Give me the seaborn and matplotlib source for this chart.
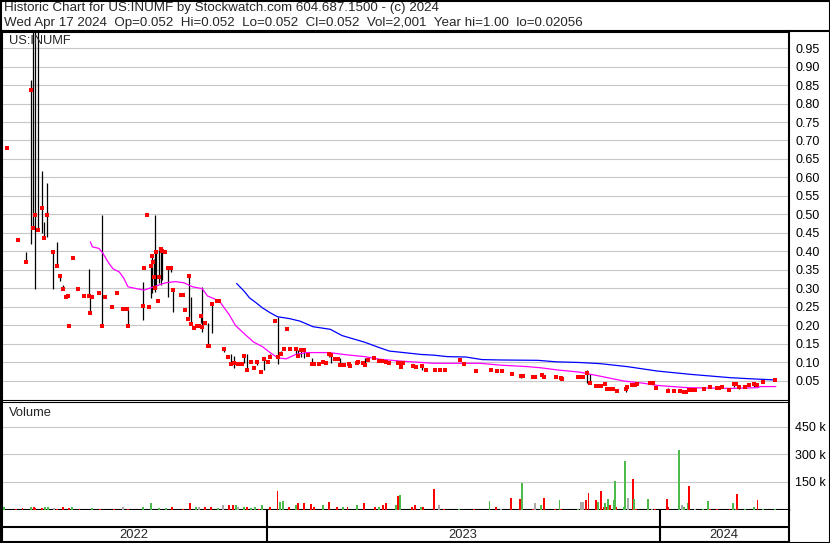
import pandas as pd
import matplotlib
matplotlib.use("Agg")
import matplotlib.pyplot as plt
import matplotlib.dates as mdates
from matplotlib.lines import Line2D
from matplotlib.patches import Rectangle
import seaborn as sns

# 1. Dades llegides del grafic (barres diaries: maxim / minim / tancament)

bar_dates = [
    "2022-05-05", "2022-05-15", "2022-05-22", "2022-05-27", "2022-05-29", "2022-05-31",
    "2022-06-02", "2022-06-06", "2022-06-08", "2022-06-11", "2022-06-16", "2022-06-20", "2022-06-23", "2022-06-26", "2022-06-28", "2022-06-30",
    "2022-07-01", "2022-07-05", "2022-07-10", "2022-07-15", "2022-07-20", "2022-07-21", "2022-07-23", "2022-07-29",
    "2022-08-01", "2022-08-04", "2022-08-10", "2022-08-15", "2022-08-20", "2022-08-24", "2022-08-25",
    "2022-09-08", "2022-09-09", "2022-09-12", "2022-09-14", "2022-09-15", "2022-09-16", "2022-09-17", "2022-09-18", "2022-09-19", "2022-09-20", "2022-09-22", "2022-09-23", "2022-09-25", "2022-09-26", "2022-09-28",
    "2022-10-01", "2022-10-04", "2022-10-06", "2022-10-13", "2022-10-15", "2022-10-17", "2022-10-20", "2022-10-21", "2022-10-23", "2022-10-25", "2022-10-28", "2022-10-30",
    "2022-11-01", "2022-11-02", "2022-11-05", "2022-11-07", "2022-11-08", "2022-11-11", "2022-11-16", "2022-11-18", "2022-11-22", "2022-11-26", "2022-11-29",
    "2022-12-02", "2022-12-05", "2022-12-06", "2022-12-09", "2022-12-11", "2022-12-14", "2022-12-17", "2022-12-20", "2022-12-23", "2022-12-27", "2022-12-29",
    "2023-01-02", "2023-01-04", "2023-01-09", "2023-01-11", "2023-01-14", "2023-01-17", "2023-01-20", "2023-01-23", "2023-01-28", "2023-01-30",
    "2023-02-02", "2023-02-05", "2023-02-08", "2023-02-12", "2023-02-14", "2023-02-19", "2023-02-22", "2023-02-25", "2023-02-28",
    "2023-03-02", "2023-03-05", "2023-03-08", "2023-03-10", "2023-03-14", "2023-03-18", "2023-03-19", "2023-03-26", "2023-03-27", "2023-03-31",
    "2023-04-02", "2023-04-05", "2023-04-11", "2023-04-15", "2023-04-18", "2023-04-22", "2023-04-25",
    "2023-05-03", "2023-05-04", "2023-05-06", "2023-05-08", "2023-05-17", "2023-05-20", "2023-05-25", "2023-05-29",
    "2023-06-06", "2023-06-11", "2023-06-16", "2023-06-30",
    "2023-07-03", "2023-07-14", "2023-07-28",
    "2023-08-03", "2023-08-08", "2023-08-17", "2023-08-25", "2023-08-27",
    "2023-09-05", "2023-09-07", "2023-09-14", "2023-09-16", "2023-09-27",
    "2023-10-01", "2023-10-02", "2023-10-17", "2023-10-19", "2023-10-22", "2023-10-26", "2023-10-28",
    "2023-11-03", "2023-11-05", "2023-11-08", "2023-11-11", "2023-11-13", "2023-11-16", "2023-11-19", "2023-11-22",
    "2023-12-01", "2023-12-02", "2023-12-06", "2023-12-09", "2023-12-11", "2023-12-23", "2023-12-26", "2023-12-29",
    "2024-01-09", "2024-01-14", "2024-01-20", "2024-01-24", "2024-01-26", "2024-01-28", "2024-01-31",
    "2024-02-03", "2024-02-11", "2024-02-17", "2024-02-23", "2024-02-25", "2024-02-28",
    "2024-03-06", "2024-03-10", "2024-03-12", "2024-03-15", "2024-03-20", "2024-03-24", "2024-03-29",
    "2024-04-01", "2024-04-06", "2024-04-17",
]

bar_high = [
    0.679, 0.430, 0.399, 0.864, 1.000, 1.000,
    1.000, 0.618, 0.479, 0.585, 0.399, 0.426, 0.340, 0.310, 0.276, 0.285,
    0.198, 0.381, 0.303, 0.279, 0.351, 0.279, 0.276, 0.287,
    0.499, 0.276, 0.249, 0.287, 0.243, 0.243, 0.243,
    0.318, 0.354, 0.498, 0.249, 0.362, 0.390, 0.371, 0.378, 0.499, 0.404, 0.265, 0.412, 0.410, 0.403, 0.398,
    0.354, 0.354, 0.295, 0.283, 0.283, 0.241, 0.218, 0.333, 0.277, 0.192, 0.200, 0.198,
    0.225, 0.304, 0.205, 0.205, 0.144, 0.257, 0.265, 0.265, 0.137, 0.114, 0.121,
    0.118, 0.096, 0.096, 0.096, 0.116, 0.121, 0.100, 0.084, 0.100, 0.073, 0.108,
    0.100, 0.121, 0.211, 0.222, 0.130, 0.135, 0.189, 0.135, 0.135, 0.133,
    0.133, 0.135, 0.119, 0.112, 0.094, 0.095, 0.103, 0.097, 0.124,
    0.121, 0.108, 0.108, 0.112, 0.092, 0.096, 0.089, 0.099, 0.101, 0.097,
    0.110, 0.106, 0.110, 0.109, 0.104, 0.100, 0.099,
    0.101, 0.097, 0.099, 0.099, 0.089, 0.088, 0.091, 0.079,
    0.079, 0.080, 0.080, 0.106,
    0.094, 0.076, 0.081,
    0.076, 0.076, 0.072, 0.064, 0.062,
    0.060, 0.060, 0.066, 0.060, 0.060,
    0.062, 0.054, 0.060, 0.060, 0.060, 0.079, 0.067,
    0.035, 0.035, 0.035, 0.045, 0.028, 0.028, 0.031, 0.022,
    0.028, 0.032, 0.042, 0.042, 0.042, 0.045, 0.045, 0.031,
    0.031, 0.022, 0.022, 0.019, 0.019, 0.025, 0.025,
    0.025, 0.028, 0.033, 0.030, 0.030, 0.033,
    0.026, 0.047, 0.042, 0.037, 0.033, 0.037, 0.042,
    0.037, 0.046, 0.052,
]

bar_low = [
    0.679, 0.430, 0.371, 0.419, 0.461, 0.299,
    0.459, 0.449, 0.437, 0.439, 0.299, 0.359, 0.319, 0.297, 0.276, 0.279,
    0.198, 0.381, 0.298, 0.279, 0.279, 0.232, 0.276, 0.287,
    0.198, 0.276, 0.249, 0.287, 0.243, 0.243, 0.198,
    0.214, 0.354, 0.498, 0.249, 0.273, 0.288, 0.371, 0.297, 0.289, 0.297, 0.265, 0.313, 0.310, 0.323, 0.398,
    0.276, 0.345, 0.237, 0.283, 0.283, 0.241, 0.218, 0.218, 0.202, 0.192, 0.198, 0.198,
    0.205, 0.182, 0.205, 0.144, 0.144, 0.180, 0.265, 0.265, 0.128, 0.114, 0.094,
    0.085, 0.096, 0.096, 0.096, 0.099, 0.078, 0.100, 0.084, 0.093, 0.073, 0.079,
    0.100, 0.115, 0.211, 0.096, 0.121, 0.135, 0.189, 0.135, 0.121, 0.118,
    0.113, 0.110, 0.119, 0.094, 0.094, 0.095, 0.101, 0.097, 0.115,
    0.099, 0.108, 0.108, 0.092, 0.092, 0.096, 0.089, 0.099, 0.099, 0.097,
    0.092, 0.106, 0.110, 0.100, 0.104, 0.099, 0.099,
    0.096, 0.097, 0.085, 0.099, 0.089, 0.088, 0.078, 0.079,
    0.079, 0.077, 0.077, 0.106,
    0.094, 0.076, 0.078,
    0.076, 0.076, 0.066, 0.058, 0.062,
    0.060, 0.060, 0.060, 0.060, 0.060,
    0.054, 0.054, 0.060, 0.060, 0.060, 0.045, 0.043,
    0.035, 0.035, 0.035, 0.038, 0.028, 0.028, 0.026, 0.022,
    0.019, 0.032, 0.037, 0.037, 0.042, 0.045, 0.045, 0.031,
    0.019, 0.022, 0.022, 0.019, 0.019, 0.025, 0.025,
    0.025, 0.028, 0.033, 0.030, 0.030, 0.033,
    0.026, 0.033, 0.042, 0.028, 0.033, 0.037, 0.033,
    0.037, 0.046, 0.052,
]

bar_close = [
    0.679, 0.430, 0.371, 0.837, 0.462, 0.498,
    0.459, 0.517, 0.437, 0.498, 0.397, 0.359, 0.334, 0.298, 0.276, 0.279,
    0.198, 0.381, 0.298, 0.279, 0.279, 0.232, 0.276, 0.287,
    0.198, 0.276, 0.249, 0.287, 0.243, 0.243, 0.198,
    0.253, 0.354, 0.498, 0.249, 0.360, 0.388, 0.371, 0.330, 0.300, 0.398, 0.265, 0.330, 0.405, 0.400, 0.398,
    0.354, 0.354, 0.295, 0.283, 0.283, 0.241, 0.218, 0.333, 0.202, 0.192, 0.198, 0.198,
    0.225, 0.195, 0.205, 0.144, 0.144, 0.257, 0.265, 0.265, 0.137, 0.114, 0.096,
    0.099, 0.096, 0.096, 0.096, 0.116, 0.078, 0.100, 0.084, 0.100, 0.073, 0.108,
    0.100, 0.115, 0.211, 0.114, 0.121, 0.135, 0.189, 0.135, 0.135, 0.118,
    0.133, 0.133, 0.119, 0.094, 0.094, 0.095, 0.101, 0.097, 0.121,
    0.119, 0.108, 0.108, 0.092, 0.092, 0.096, 0.089, 0.099, 0.101, 0.097,
    0.092, 0.106, 0.110, 0.103, 0.104, 0.100, 0.099,
    0.099, 0.097, 0.087, 0.099, 0.089, 0.088, 0.089, 0.079,
    0.079, 0.078, 0.078, 0.106,
    0.094, 0.076, 0.079,
    0.076, 0.076, 0.069, 0.062, 0.062,
    0.060, 0.060, 0.064, 0.060, 0.060,
    0.058, 0.054, 0.060, 0.060, 0.060, 0.072, 0.045,
    0.035, 0.035, 0.035, 0.042, 0.028, 0.028, 0.028, 0.022,
    0.028, 0.032, 0.037, 0.037, 0.042, 0.045, 0.045, 0.031,
    0.022, 0.022, 0.022, 0.019, 0.019, 0.025, 0.025,
    0.025, 0.028, 0.033, 0.030, 0.030, 0.033,
    0.026, 0.040, 0.042, 0.033, 0.033, 0.037, 0.040,
    0.037, 0.046, 0.052,
]

# 2. Volum diari (u = puja, d = baixa, f = sense canvi)

vol_dates = [
    "2022-05-02", "2022-05-13", "2022-05-19", "2022-05-27", "2022-05-30", "2022-05-31",
    "2022-06-06", "2022-06-09", "2022-06-12", "2022-06-17", "2022-06-20", "2022-06-26",
    "2022-07-01", "2022-07-04", "2022-07-11", "2022-07-23", "2022-07-30",
    "2022-08-12", "2022-08-20", "2022-08-25",
    "2022-09-08", "2022-09-15", "2022-09-23", "2022-09-29",
    "2022-10-05", "2022-10-15", "2022-10-22", "2022-10-27", "2022-10-30",
    "2022-11-05", "2022-11-10", "2022-11-17", "2022-11-21", "2022-11-27",
    "2022-12-01", "2022-12-03", "2022-12-05", "2022-12-11", "2022-12-14", "2022-12-17", "2022-12-21", "2022-12-25", "2022-12-28",
    "2023-01-04", "2023-01-11", "2023-01-13", "2023-01-16", "2023-01-22", "2023-01-28", "2023-01-30",
    "2023-02-05", "2023-02-11", "2023-02-14", "2023-02-22", "2023-02-28",
    "2023-03-07", "2023-03-13", "2023-03-17", "2023-03-26",
    "2023-04-01", "2023-04-12", "2023-04-15", "2023-04-19", "2023-04-22",
    "2023-05-01", "2023-05-03", "2023-05-05", "2023-05-16", "2023-05-19", "2023-05-24", "2023-05-26",
    "2023-06-05", "2023-06-10", "2023-06-15", "2023-06-29",
    "2023-07-13", "2023-07-27",
    "2023-08-02", "2023-08-07", "2023-08-16", "2023-08-24", "2023-08-26",
    "2023-09-05", "2023-09-07", "2023-09-13", "2023-09-16", "2023-09-26", "2023-09-30",
    "2023-10-01", "2023-10-17", "2023-10-20", "2023-10-22", "2023-10-25", "2023-10-27",
    "2023-11-03", "2023-11-05", "2023-11-08", "2023-11-10", "2023-11-11", "2023-11-13", "2023-11-14", "2023-11-16",
    "2023-11-20", "2023-11-21", "2023-11-22", "2023-11-29", "2023-11-30",
    "2023-12-03", "2023-12-07", "2023-12-08", "2023-12-10", "2023-12-21", "2023-12-25", "2023-12-28",
    "2024-01-08", "2024-01-09", "2024-01-19", "2024-01-22", "2024-01-24", "2024-01-27", "2024-01-28",
    "2024-02-03", "2024-02-10", "2024-02-15", "2024-02-17", "2024-02-23",
    "2024-03-06", "2024-03-09", "2024-03-12", "2024-03-13", "2024-03-20", "2024-03-29",
    "2024-04-01", "2024-04-06", "2024-04-17",
]

vol_values = [
    16000, 5000, 5500, 16000, 16000, 9000,
    9000, 12000, 16000, 9000, 5000, 16000,
    9000, 11000, 5000, 7000, 5000,
    5000, 11000, 5000,
    11000, 33000, 7000, 7000,
    16000, 5000, 33000, 16000, 11000,
    11000, 16000, 7000, 22000, 22000,
    26000, 27000, 11000, 16000, 16000, 9000, 11000, 5000, 27000,
    11000, 100000, 38000, 45000, 11000, 26000, 33000,
    33000, 29000, 16000, 22000, 40000,
    11000, 16000, 11000, 22000,
    33000, 11000, 11000, 27000, 33000,
    22000, 71000, 76000, 12000, 27000, 16000, 12000,
    109000, 27000, 5000, 5000,
    5000, 44000,
    16000, 5000, 60000, 55000, 142000,
    5000, 33000, 27000, 60000, 5000, 49000,
    5000, 5000, 38000, 38000, 49000, 87000,
    49000, 38000, 98000, 16000, 33000, 16000, 55000, 27000,
    49000, 153000, 11000, 11000, 262000,
    60000, 164000, 55000, 5000, 55000, 5000, 5000,
    55000, 11000, 322000, 27000, 16000, 33000, 125000,
    5000, 5000, 44000, 5000, 5000,
    5000, 33000, 5000, 82000, 5000, 11000,
    49000, 5000, 2001,
]

vol_dir = [
    "u", "d", "d", "u", "d", "d",
    "d", "u", "u", "f", "d", "d",
    "d", "u", "d", "u", "d",
    "d", "f", "d",
    "u", "u", "u", "u",
    "d", "d", "d", "u", "f",
    "d", "d", "u", "f", "d",
    "d", "u", "f", "u", "d", "u", "u", "d", "u",
    "d", "d", "u", "u", "d", "u", "d",
    "d", "d", "d", "u", "d",
    "d", "u", "d", "u",
    "d", "d", "u", "d", "d",
    "u", "d", "u", "d", "d", "u", "d",
    "d", "f", "d", "u",
    "d", "u",
    "d", "f", "d", "d", "u",
    "d", "f", "u", "d", "d", "u",
    "d", "u", "f", "f", "d", "d",
    "d", "u", "d", "d", "u", "d", "u", "d",
    "u", "u", "d", "u", "u",
    "f", "d", "u", "d", "u", "f", "d",
    "d", "d", "u", "f", "u", "u", "d",
    "f", "u", "u", "d", "d",
    "d", "u", "u", "d", "u", "u",
    "d", "u", "u",
]

# 3. Mitjanes mobils (llegides punt a punt)

ma_short_dates = [
    "2022-07-21", "2022-07-23", "2022-07-29", "2022-08-01", "2022-08-07", "2022-08-11", "2022-08-17", "2022-08-21",
    "2022-08-25", "2022-09-02", "2022-09-09", "2022-09-18", "2022-09-29", "2022-10-08", "2022-10-16", "2022-10-24",
    "2022-11-02", "2022-11-07", "2022-11-13", "2022-11-19", "2022-11-27", "2022-12-03", "2022-12-13", "2022-12-20",
    "2022-12-28", "2023-01-04", "2023-01-11", "2023-01-19", "2023-01-28", "2023-02-07", "2023-02-28", "2023-03-16",
    "2023-04-02", "2023-04-16", "2023-05-05", "2023-05-26", "2023-06-05", "2023-07-18", "2023-08-06", "2023-08-31",
    "2023-09-12", "2023-09-28", "2023-10-19", "2023-11-07", "2023-11-29", "2023-12-17", "2023-12-30", "2024-01-27",
    "2024-03-07", "2024-04-01", "2024-04-04", "2024-04-18",
]
ma_short = [
    0.426, 0.412, 0.408, 0.398, 0.369, 0.353, 0.344, 0.328,
    0.304, 0.299, 0.295, 0.304, 0.315, 0.318, 0.315, 0.304,
    0.299, 0.279, 0.272, 0.261, 0.229, 0.199, 0.172, 0.154,
    0.142, 0.126, 0.112, 0.109, 0.121, 0.126, 0.126, 0.120,
    0.115, 0.108, 0.103, 0.099, 0.097, 0.097, 0.092, 0.088,
    0.085, 0.079, 0.073, 0.062, 0.049, 0.043, 0.037, 0.031,
    0.029, 0.031, 0.034, 0.034,
]

ma_long_dates = [
    "2022-12-04", "2022-12-11", "2022-12-16", "2022-12-22", "2022-12-28", "2023-01-04", "2023-01-11", "2023-01-22",
    "2023-02-01", "2023-02-13", "2023-03-01", "2023-03-12", "2023-04-02", "2023-04-16", "2023-04-25", "2023-05-05",
    "2023-05-24", "2023-06-05", "2023-06-18", "2023-07-05", "2023-07-20", "2023-08-05", "2023-09-10", "2023-09-27",
    "2023-10-20", "2023-11-07", "2023-12-02", "2023-12-30", "2024-01-30", "2024-03-07", "2024-03-26", "2024-04-17",
]
ma_long = [
    0.313, 0.292, 0.274, 0.261, 0.247, 0.234, 0.223, 0.218,
    0.211, 0.196, 0.189, 0.172, 0.154, 0.139, 0.130, 0.127,
    0.121, 0.119, 0.115, 0.114, 0.107, 0.106, 0.105, 0.101,
    0.099, 0.096, 0.088, 0.076, 0.067, 0.058, 0.055, 0.052,
]

price_ticks = [0.05, 0.10, 0.15, 0.20, 0.25, 0.30, 0.35, 0.40, 0.45, 0.50,
               0.55, 0.60, 0.65, 0.70, 0.75, 0.80, 0.85, 0.90, 0.95]
vol_ticks = [150000, 300000, 450000]
vol_tick_labels = ["150 k", "300 k", "450 k"]
year_starts = ["2023-01-01", "2024-01-01"]
year_labels = ["2022", "2023", "2024"]

symbol = "US:INUMF"
header_1 = "Historic Chart for US:INUMF by Stockwatch.com 604.687.1500 - (c) 2024"
header_2 = "Wed Apr 17 2024  Op=0.052  Hi=0.052  Lo=0.052  Cl=0.052  Vol=2,001  Year hi=1.00  lo=0.02056"

assert len(bar_dates) == len(bar_high) == len(bar_low) == len(bar_close)
assert len(vol_dates) == len(vol_values) == len(vol_dir)
assert len(ma_short_dates) == len(ma_short) and len(ma_long_dates) == len(ma_long)

# 4. Figura

sns.set_style("white")
plt.rcParams["font.family"] = ["Liberation Sans", "DejaVu Sans"]
plt.rcParams["font.size"] = 9

W, H = 830, 543
fig = plt.figure(figsize=(W / 100, H / 100), dpi=100)


def px_box(x0, y0, x1, y1):
    return [x0 / W, 1 - y1 / H, (x1 - x0) / W, (y1 - y0) / H]


ax_p = fig.add_axes(px_box(1.5, 31.5, 789, 399.5))
ax_v = fig.add_axes(px_box(1.5, 401.5, 789, 509.5), sharex=ax_p)
ax_d = fig.add_axes(px_box(1.5, 509.5, 789, 542), sharex=ax_p)

bar_x = pd.to_datetime(bar_dates)
vol_x = pd.to_datetime(vol_dates)
grid_kw = dict(color="#c8c8c8", lw=0.8)

# preu: barres maxim-minim, mitjanes i punts de tancament
ax_p.vlines(bar_x, bar_low, bar_high, color="black", lw=0.9, zorder=3)
sns.lineplot(x=pd.to_datetime(ma_short_dates), y=ma_short, color="#ff00ff", lw=0.9, ax=ax_p, zorder=4)
sns.lineplot(x=pd.to_datetime(ma_long_dates), y=ma_long, color="#0000ff", lw=0.9, ax=ax_p, zorder=4)
sns.scatterplot(x=bar_x, y=bar_close, marker="s", s=5, color="#ff0000", linewidth=0, ax=ax_p, zorder=5)

# volum
vol_colors = {"u": "#4cbb4c", "d": "#ff0000", "f": "#a8a8a8"}
ax_v.bar(vol_x, vol_values, width=1.8, color=[vol_colors[c] for c in vol_dir], linewidth=0, zorder=3)

ax_p.set_xlim(pd.Timestamp("2022-04-29 12:00"), pd.Timestamp("2024-04-30 07:00"))
ax_p.set_ylim(-0.001, 0.995)
ax_v.set_ylim(0, 586000)

for ax in (ax_p, ax_v):
    ax.xaxis.set_major_locator(mdates.MonthLocator())
    ax.grid(True, **grid_kw)
    ax.set_axisbelow(True)
    ax.yaxis.tick_right()
    ax.tick_params(axis="x", length=0, labelbottom=False)
    ax.tick_params(axis="y", length=0, pad=4.5, labelsize=9, colors="black")
    ax.set_xlabel("")
    ax.set_ylabel("")
    for s in ax.spines.values():
        s.set_color("black")
        s.set_linewidth(1.5)

ax_p.set_yticks(price_ticks)
ax_p.set_yticklabels([f"{v:.2f}" for v in price_ticks])
ax_p.spines["bottom"].set_linewidth(0.8)
ax_v.set_yticks(vol_ticks)
ax_v.set_yticklabels(vol_tick_labels)
ax_v.spines["top"].set_linewidth(0.8)

# banda de dates
ax_d.set_ylim(0, 32.5)
ax_d.axhline(15.5, color="black", lw=1.5)
starts = pd.to_datetime(year_starts)
ax_d.vlines(starts, 0, 32.5, color="black", lw=1.5)
lo, hi = mdates.num2date(ax_p.get_xlim()[0]), mdates.num2date(ax_p.get_xlim()[1])
edges = [pd.Timestamp(lo).tz_localize(None)] + list(starts) + [pd.Timestamp(hi).tz_localize(None)]
for i, lab in enumerate(year_labels):
    mid = edges[i] + (edges[i + 1] - edges[i]) / 2
    ax_d.text(mid, 7.5, lab, ha="center", va="center", fontsize=9.3)
ax_d.set_xticks([])
ax_d.set_yticks([])
ax_d.tick_params(length=0, labelbottom=False, labelleft=False)
for name, s in ax_d.spines.items():
    s.set_color("black")
    s.set_linewidth(1.5)
ax_d.spines["top"].set_visible(False)

# textos i marcs
fig.text(4 / W, 1 - 8.5 / H, header_1, ha="left", va="center", fontsize=9.6)
fig.text(4 / W, 1 - 23 / H, header_2, ha="left", va="center", fontsize=9.6)
fig.text(9 / W, 1 - 41.5 / H, symbol, ha="left", va="center", fontsize=9.3)
fig.text(9 / W, 1 - 413 / H, "Volume", ha="left", va="center", fontsize=9.3)

fig.add_artist(Line2D([0, 1], [1 - 31 / H, 1 - 31 / H], transform=fig.transFigure, color="black", lw=1.5))
fig.add_artist(Rectangle((0.5 / W, 0.5 / H), (W - 1) / W, (H - 1) / H, transform=fig.transFigure,
                         fill=False, edgecolor="black", lw=1.5))

fig.savefig("out.png", dpi=100)
